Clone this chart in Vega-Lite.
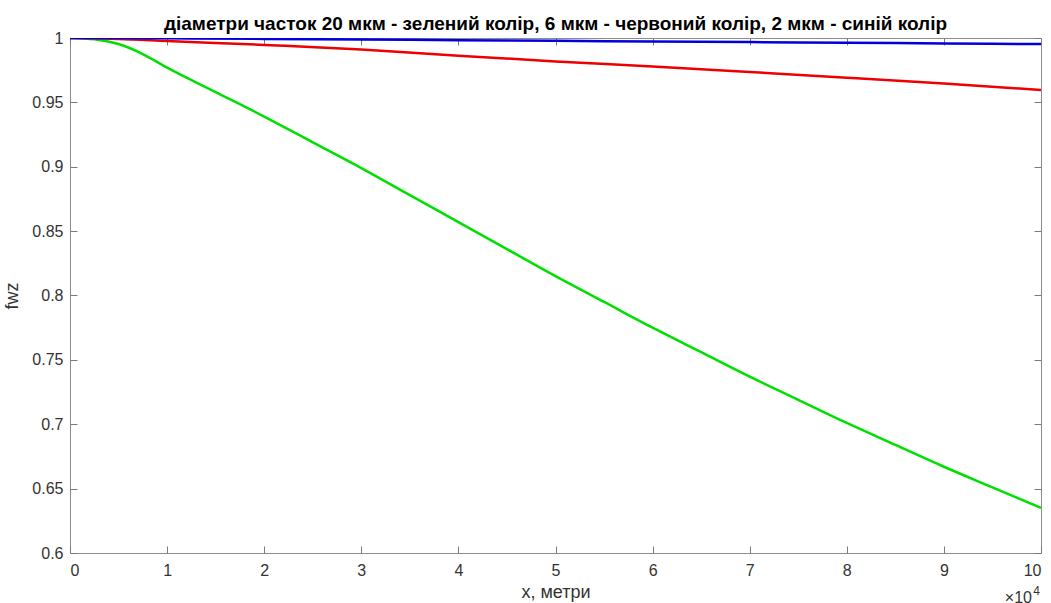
{
  "$schema": "https://vega.github.io/schema/vega-lite/v6.json",
  "width": 971,
  "height": 515,
  "autosize": {"type": "none"},
  "padding": {"left": 70, "top": 38, "right": 10, "bottom": 50},
  "background": "white",
  "config": {
    "font": "Liberation Sans",
    "view": {"stroke": "#8c8c8c", "strokeWidth": 1},
    "axis": {"grid": false, "domain": false, "offset": -7, "tickSize": 7, "tickColor": "#7a7a7a", "tickWidth": 1, "labelColor": "#333333", "labelFontSize": 16, "titleColor": "#333333", "titleFontSize": 18, "titleFontWeight": "normal", "labelFont": "Liberation Sans", "titleFont": "Liberation Sans"}
  },
  "title": {"text": "діаметри часток 20 мкм - зелений колір, 6 мкм - червоний колір, 2 мкм - синій колір", "fontSize": 19, "fontWeight": "bold", "font": "Liberation Sans", "color": "#000000", "anchor": "middle", "baseline": "bottom", "offset": -23},
  "data": {"values": [
    {"x": 0, "fwz": 1.0, "d": "20 мкм"},
    {"x": 2500, "fwz": 0.999, "d": "20 мкм"},
    {"x": 5000, "fwz": 0.9953, "d": "20 мкм"},
    {"x": 7500, "fwz": 0.9875, "d": "20 мкм"},
    {"x": 10000, "fwz": 0.977, "d": "20 мкм"},
    {"x": 15000, "fwz": 0.958, "d": "20 мкм"},
    {"x": 20000, "fwz": 0.939, "d": "20 мкм"},
    {"x": 25000, "fwz": 0.919, "d": "20 мкм"},
    {"x": 30000, "fwz": 0.899, "d": "20 мкм"},
    {"x": 35000, "fwz": 0.878, "d": "20 мкм"},
    {"x": 40000, "fwz": 0.857, "d": "20 мкм"},
    {"x": 45000, "fwz": 0.836, "d": "20 мкм"},
    {"x": 50000, "fwz": 0.815, "d": "20 мкм"},
    {"x": 55000, "fwz": 0.795, "d": "20 мкм"},
    {"x": 60000, "fwz": 0.775, "d": "20 мкм"},
    {"x": 65000, "fwz": 0.756, "d": "20 мкм"},
    {"x": 70000, "fwz": 0.737, "d": "20 мкм"},
    {"x": 75000, "fwz": 0.719, "d": "20 мкм"},
    {"x": 80000, "fwz": 0.701, "d": "20 мкм"},
    {"x": 85000, "fwz": 0.684, "d": "20 мкм"},
    {"x": 90000, "fwz": 0.667, "d": "20 мкм"},
    {"x": 95000, "fwz": 0.651, "d": "20 мкм"},
    {"x": 100000, "fwz": 0.635, "d": "20 мкм"},
    {"x": 0, "fwz": 1.0, "d": "6 мкм"},
    {"x": 5000, "fwz": 0.9993, "d": "6 мкм"},
    {"x": 10000, "fwz": 0.9977, "d": "6 мкм"},
    {"x": 20000, "fwz": 0.9946, "d": "6 мкм"},
    {"x": 30000, "fwz": 0.9911, "d": "6 мкм"},
    {"x": 40000, "fwz": 0.9863, "d": "6 мкм"},
    {"x": 50000, "fwz": 0.9818, "d": "6 мкм"},
    {"x": 60000, "fwz": 0.9778, "d": "6 мкм"},
    {"x": 70000, "fwz": 0.9736, "d": "6 мкм"},
    {"x": 80000, "fwz": 0.9692, "d": "6 мкм"},
    {"x": 90000, "fwz": 0.9646, "d": "6 мкм"},
    {"x": 100000, "fwz": 0.9596, "d": "6 мкм"},
    {"x": 0, "fwz": 1.0, "d": "2 мкм"},
    {"x": 10000, "fwz": 0.9998, "d": "2 мкм"},
    {"x": 20000, "fwz": 0.9993, "d": "2 мкм"},
    {"x": 30000, "fwz": 0.9988, "d": "2 мкм"},
    {"x": 40000, "fwz": 0.9983, "d": "2 мкм"},
    {"x": 50000, "fwz": 0.9978, "d": "2 мкм"},
    {"x": 60000, "fwz": 0.9973, "d": "2 мкм"},
    {"x": 70000, "fwz": 0.9968, "d": "2 мкм"},
    {"x": 80000, "fwz": 0.9963, "d": "2 мкм"},
    {"x": 90000, "fwz": 0.9958, "d": "2 мкм"},
    {"x": 100000, "fwz": 0.9953, "d": "2 мкм"}
  ]},
  "layer": [
    {
      "mark": {"type": "line", "strokeWidth": 2.5, "clip": true, "interpolate": "monotone"},
      "encoding": {
        "x": {"field": "x", "type": "quantitative", "scale": {"domain": [0, 100000], "nice": false},
          "axis": {"orient": "bottom", "title": "x, метри", "values": [0,10000,20000,30000,40000,50000,60000,70000,80000,90000,100000], "labelExpr": "format(datum.value/10000, 'd')", "labelPadding": 9, "titlePadding": 5}},
        "y": {"field": "fwz", "type": "quantitative", "scale": {"domain": [0.6, 1], "nice": false, "zero": false},
          "axis": {"orient": "left", "title": "fwz", "values": [0.6,0.65,0.7,0.75,0.8,0.85,0.9,0.95,1], "format": ".2~f", "labelPadding": 7, "titlePadding": 10}},
        "color": {"field": "d", "type": "nominal", "legend": null, "scale": {"domain": ["20 мкм", "6 мкм", "2 мкм"], "range": ["#00e000", "#ee0000", "#0000dd"]}}
      }
    },
    {
      "data": {"values": [{"label": "×10"}]},
      "mark": {"type": "text", "align": "right", "baseline": "alphabetic", "dx": -9, "dy": 50, "fontSize": 16, "color": "#333333", "font": "Liberation Sans"},
      "encoding": {
        "x": {"datum": 100000, "type": "quantitative", "axis": {"orient": "top", "labels": false, "title": null, "values": [0,10000,20000,30000,40000,50000,60000,70000,80000,90000,100000]}},
        "y": {"datum": 0.6, "type": "quantitative", "axis": {"orient": "right", "labels": false, "title": null, "values": [0.6,0.65,0.7,0.75,0.8,0.85,0.9,0.95,1]}},
        "text": {"field": "label"}
      }
    },
    {
      "data": {"values": [{"label": "4"}]},
      "mark": {"type": "text", "align": "right", "baseline": "alphabetic", "dx": -1, "dy": 42, "fontSize": 12, "color": "#333333", "font": "Liberation Sans"},
      "encoding": {
        "x": {"datum": 100000, "type": "quantitative", "axis": null},
        "y": {"datum": 0.6, "type": "quantitative", "axis": null},
        "text": {"field": "label"}
      }
    }
  ],
  "resolve": {"axis": {"x": "independent", "y": "independent"}}
}
